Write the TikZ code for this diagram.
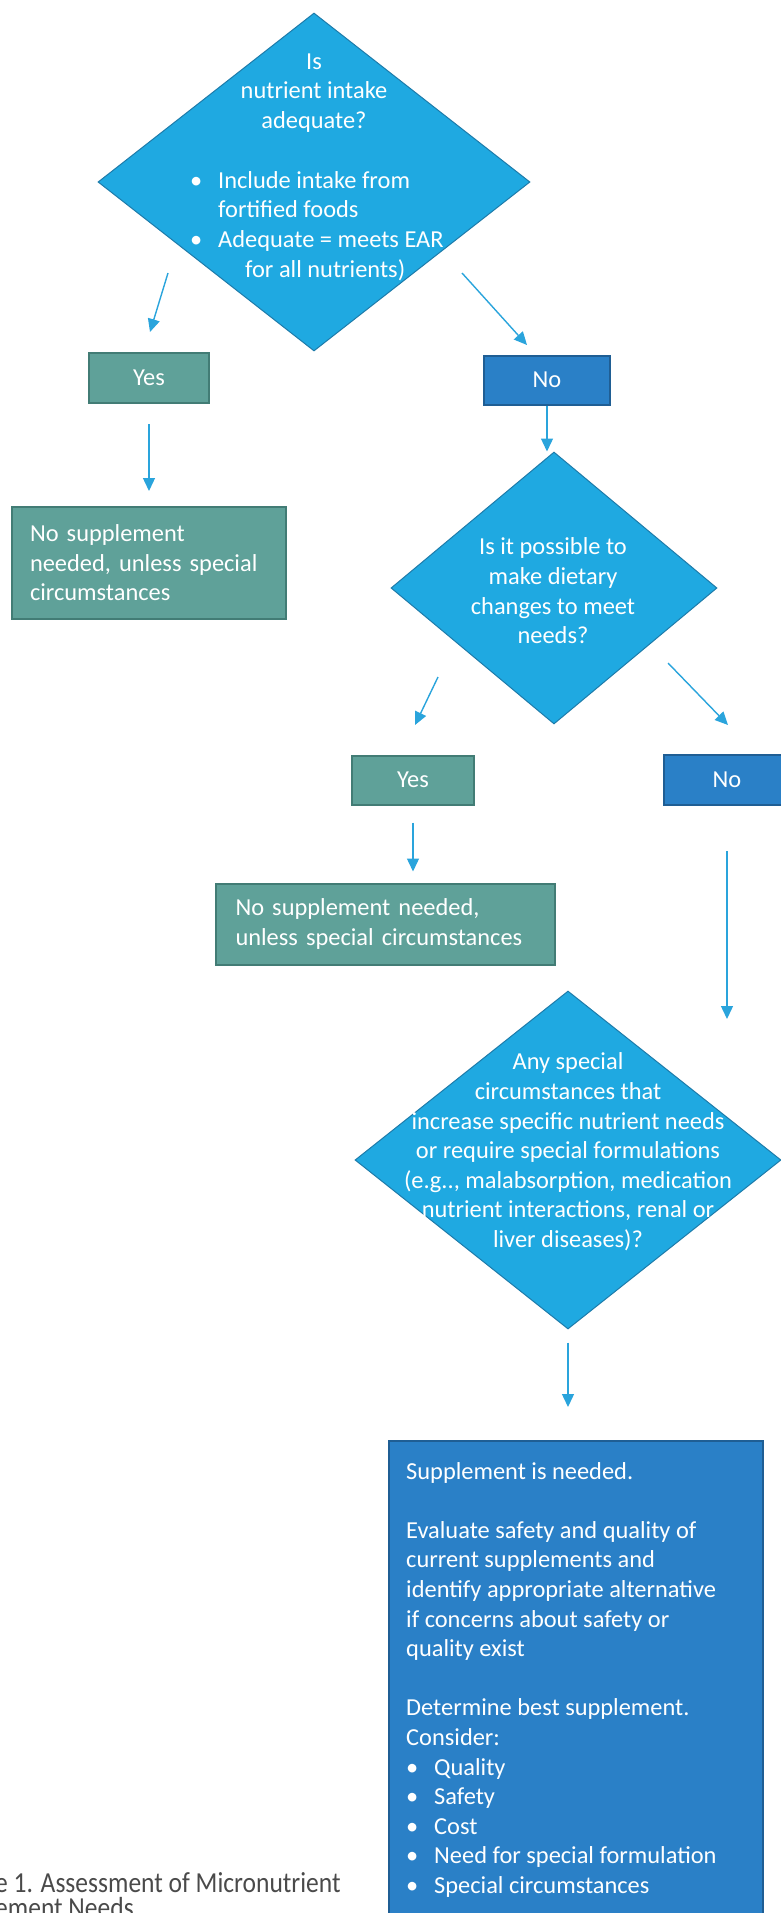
\documentclass[tikz,border=0pt]{standalone}
\usepackage{fontspec}
\setmainfont{Carlito}
\usetikzlibrary{shapes.geometric, arrows.meta, calc}

\definecolor{askblue}{HTML}{1FA9E1}
\definecolor{askedge}{HTML}{1D7BAA}
\definecolor{yesfill}{HTML}{5FA199}
\definecolor{yesedge}{HTML}{427C75}
\definecolor{nofill}{HTML}{2A80C7}
\definecolor{noedge}{HTML}{1F5E94}
\definecolor{arrowblue}{HTML}{2AA4DC}
\definecolor{capgray}{HTML}{4A4A4A}

\newcommand{\flowfont}{\fontsize{24.4}{29.6}\selectfont}

\begin{document}
\begin{tikzpicture}[x=1pt, y=-1pt,
    ask/.style={diamond, draw=askedge, line width=1pt, fill=askblue, inner sep=0pt, aspect=1},
    asktext/.style={text=white, font=\flowfont, align=center, inner sep=0pt},
    yesbox/.style={rectangle, draw=yesedge, line width=2pt, fill=yesfill, text=white, font=\flowfont, inner sep=0pt},
    nobox/.style={rectangle, draw=noedge, line width=2pt, fill=nofill, text=white, font=\flowfont, inner sep=0pt},
    flow/.style={-{Triangle[length=13pt, width=12pt]}, line width=1.4pt, draw=arrowblue}
]
\useasboundingbox (0,0) rectangle (781,1913);
\clip (0,0) rectangle (781,1913);

% first question
\node[ask, minimum width=432pt, minimum height=338pt] (d1) at (314,182) {};
\node[asktext] (d1q) at (314,93) {Is\\nutrient intake\\adequate?};
\node[asktext, align=left, anchor=west] (d1notes) at (190,226) {\makebox[28pt][l]{\textbullet}Include intake from\\\hspace*{28pt}fortified foods\\\makebox[28pt][l]{\textbullet}Adequate = meets EAR\\\hspace*{55pt}for all nutrients)};

\node[yesbox, minimum width=120pt, minimum height=50pt] (yes1) at (149,378) {Yes};
\node[nobox, minimum width=126pt, minimum height=49pt] (no1) at (547,380) {No};
\node[yesbox, align=left, text width=238pt, inner xsep=18pt, minimum height=112pt] (keep1) at (149,563) {No supplement\\needed, unless special\\circumstances};

% second question
\node[ask, minimum width=326pt, minimum height=272pt] (d2) at (554,588) {};
\node[asktext] (d2q) at (553,591) {Is it possible to\\make dietary\\changes to meet\\needs?};

\node[yesbox, minimum width=122pt, minimum height=49pt] (yes2) at (413,780) {Yes};
\node[nobox, minimum width=126pt, minimum height=50pt] (no2) at (727,780) {No};
\node[yesbox, align=left, text width=299pt, inner xsep=20pt, minimum height=81pt] (keep2) at (385,924) {No supplement needed,\\unless special circumstances};

% third question
\node[ask, minimum width=426pt, minimum height=338pt] (d3) at (568,1160) {};
\node[asktext] (d3q) at (568,1152) {Any special\\circumstances that\\increase specific nutrient needs\\or require special formulations\\(e.g.., malabsorption, medication\\nutrient interactions, renal or\\liver diseases)?};

% outcome
\node[nobox, anchor=north west, minimum width=374pt, minimum height=520pt] (need) at (388,1440) {};
\node[text=white, font=\flowfont, align=left, anchor=north west, inner sep=0pt] (needtxt) at (406,1462) {Supplement is needed.\\[29.6pt]
Evaluate safety and quality of\\current supplements and\\identify appropriate alternative\\if concerns about safety or\\quality exist\\[29.6pt]
Determine best supplement.\\Consider:\\
\makebox[28pt][l]{\textbullet}Quality\\
\makebox[28pt][l]{\textbullet}Safety\\
\makebox[28pt][l]{\textbullet}Cost\\
\makebox[28pt][l]{\textbullet}Need for special formulation\\
\makebox[28pt][l]{\textbullet}Special circumstances};

% caption
\node[text=capgray, font=\fontsize{29}{25}\selectfont, align=left, anchor=north west, inner sep=0pt] (caption) at (-5,1872) {\scalebox{0.88}[1]{e 1. Assessment of Micronutrient}\\\scalebox{0.88}[1]{ement Needs}};

% arrows
\coordinate (d1yes) at (168,273);
\coordinate (yes1in) at (150,332);
\coordinate (d1no) at (462,273);
\coordinate (no1in) at (527,345);
\coordinate (d2yes) at (438,677);
\coordinate (yes2in) at (415,725);
\coordinate (d2no) at (668,663);
\coordinate (no2in) at (728,725);
\coordinate (d3in) at (727,1019);

\draw[flow] (d1yes) -- (yes1in);
\draw[flow] (d1no) -- (no1in);
\draw[flow, shorten <=20pt, shorten >=15pt] (yes1) -- (keep1);
\draw[flow] (no1) -- (no1 |- d2.north);
\draw[flow] (d2yes) -- (yes2in);
\draw[flow] (d2no) -- (no2in);
\draw[flow, shorten <=17pt, shorten >=11pt] (yes2.south) -- (yes2.south |- keep2.north);
\draw[flow, shorten <=45pt] (no2.south) -- (d3in);
\draw[flow, shorten <=13pt, shorten >=33pt] (d3.south) -- (d3.south |- need.north);

\end{tikzpicture}
\end{document}
